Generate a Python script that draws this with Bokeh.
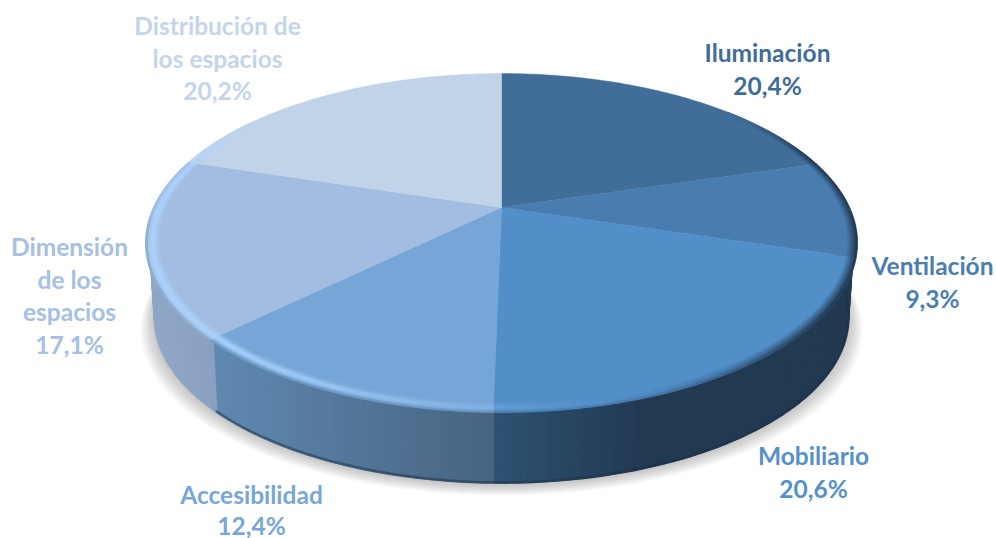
import math
from bokeh.plotting import figure
from bokeh.embed import file_html
from bokeh.resources import INLINE
from bokeh.core.properties import value

categories = ["Iluminación", "Ventilación", "Mobiliario", "Accesibilidad", "Dimensión de los espacios", "Distribución de los espacios"]
shares = [20.4, 9.3, 20.6, 12.4, 17.1, 20.2]
label_lines = [["Iluminación"], ["Ventilación"], ["Mobiliario"], ["Accesibilidad"],
               ["Dimensión", "de los", "espacios"], ["Distribución de", "los espacios"]]

face_colors = ["#406e99", "#4a7daf", "#528fc8", "#76a5d7", "#a2bde1", "#c1d3e8"]
text_colors = ["#3f6d99", "#4a7eb0", "#5490c9", "#78a6d8", "#a6c0e4", "#c4d5ea"]
side_left = [(34, 57, 82), (34, 57, 82), (46, 82, 114), (96, 137, 178), (143, 166, 198), (143, 166, 198)]
side_right = [(34, 57, 82), (34, 57, 82), (34, 57, 82), (70, 100, 128), (138, 160, 192), (143, 166, 198)]
label_anchor = [(767, 52), (932, 265), (813, 455), (251, 494), (69, 246), (217, 25)]
label_gap = [32.7, 32.7, 32.7, 30.5, 32.7, 32.7]

CX, CY, X, A, C, S, D = 501, 207, 348.1, 162.0, 0.2094, 0.975, 76.0


def proj(deg, r=1.0, low=False):
    t = math.radians(deg)
    u, v = r * math.sin(t), r * math.cos(t)
    w = 1 + C * v
    s, d = (S, D) if low else (1.0, 0.0)
    return CX + s * X * u / w, CY + d - s * A * v / w


def hexrgb(h):
    return tuple(int(h[i:i + 2], 16) for i in (1, 3, 5))


def mix(a, b, f):
    f = max(0.0, min(1.0, f))
    return "#%02x%02x%02x" % tuple(round(a[i] + (b[i] - a[i]) * f) for i in range(3))


def frange(a, b, step):
    n = max(1, int(math.ceil((b - a) / step)))
    return [a + (b - a) * i / n for i in range(n + 1)]


def smooth(a, b, x):
    f = max(0.0, min(1.0, (x - a) / (b - a)))
    return f * f * (3 - 2 * f)


edges = [0.0]
for sh in shares:
    edges.append(edges[-1] + sh)
total = edges[-1]
angles = [e / total * 360 for e in edges]

p = figure(width=996, height=538, x_range=(0, 996), y_range=(538, 0), toolbar_location=None,
           output_backend="svg", min_border=0, outline_line_color=None)
p.axis.visible = False
p.grid.visible = False

# soft shadow
for i in range(10):
    g = 14 - i * 1.4
    xs, ys = [], []
    for d in range(85, 276, 4):
        x, y = proj(d, 1.0, True)
        xs.append(CX + (x - CX) * (1 + g / 350))
        ys.append(y + 1 + g * 0.8)
    p.patch(xs, ys, fill_color="#555555", fill_alpha=0.035, line_color=None)

# side wall
hx, hy, hc = [], [], []
for i in range(len(shares)):
    a0, a1 = angles[i], angles[i + 1]
    lo, hi = max(a0, 85), min(a1, 275)
    if hi <= lo:
        continue
    steps = frange(lo, hi, 1.5)
    xa = proj(min(a1, 275))[0]
    xb = proj(max(a0, 90) if a0 < 180 else a0)[0]
    left, right = min(xa, xb), max(xa, xb)
    for d0, d1 in zip(steps, steps[1:]):
        p0, p1 = proj(d0, 0.99), proj(d1, 0.99)
        q0, q1 = proj(d0, 1.0, True), proj(d1, 1.0, True)
        xm = (p0[0] + p1[0]) / 2
        f = (xm - left) / max(1.0, right - left)
        if i == 2:
            f = (xm - left) / 150
        col = mix(side_left[i], side_right[i], f)
        hx.append([p0[0], p1[0], q1[0], q0[0]])
        hy.append([p0[1], p1[1], q1[1], q0[1]])
        hc.append(col)
p.patches(hx, hy, fill_color=hc, line_color=hc, line_width=1.2)

# dark lower rim of the wall
lx, ly = [], []
for d in frange(85, 226, 1.0):
    lx.append(proj(d, 1.0, True)[0])
    ly.append(proj(d, 1.0, True)[1] - 1)
p.line(lx, ly, line_color="#1d2f44", line_width=2.5, line_alpha=0.5)

# top faces
for i in range(len(shares)):
    xs, ys = [CX], [CY]
    for d in frange(angles[i], angles[i + 1], 1.0):
        x, y = proj(d)
        xs.append(x)
        ys.append(y)
    p.patch(xs, ys, fill_color=face_colors[i], line_color=face_colors[i], line_width=0.5)

# bevel along the front edge
light = (172, 212, 255)
dark = (30, 50, 74)
bx, by, bc = [], [], []
N = 8
rad = [0.958 + 0.042 * j / N for j in range(N + 1)]
for i in range(len(shares)):
    steps = frange(angles[i], angles[i + 1], 1.5)
    base = hexrgb(face_colors[i])
    for d0, d1 in zip(steps, steps[1:]):
        dm = (d0 + d1) / 2
        kl = smooth(160, 225, dm) * (1 - smooth(285, 312, dm))
        kd = smooth(45, 75, dm) * (1 - smooth(120, 172, dm))
        for j in range(N):
            rr = (j + 0.5) / N
            a, b = proj(d0, rad[j]), proj(d1, rad[j])
            c, e = proj(d1, rad[j + 1]), proj(d0, rad[j + 1])
            fl = kl * 0.9 * math.exp(-((rr - 0.55) / 0.3) ** 2)
            fd = kd * max(0.0, rr - 0.35) * 1.5
            roll = smooth(0.8, 1.0, rr) * smooth(80, 100, dm) * (1 - smooth(255, 280, dm)) * 0.2
            if max(fl, fd, roll) < 0.02:
                continue
            col = hexrgb(mix(base, light, fl))
            col = hexrgb(mix(col, dark, fd))
            col = mix(col, dark, roll)
            bx.append([a[0], b[0], c[0], e[0]])
            by.append([a[1], b[1], c[1], e[1]])
            bc.append(col)
p.patches(bx, by, fill_color=bc, line_color=bc, line_width=0.6)

# labels
tx, ty, tt, tc = [], [], [], []
for i, lines in enumerate(label_lines):
    ax, ay = label_anchor[i]
    for j, ln in enumerate(lines + [f"{shares[i]:.1f}%".replace(".", ",")]):
        tx.append(ax)
        ty.append(ay + j * label_gap[i])
        tt.append(ln)
        tc.append(text_colors[i])
p.text(tx, ty, text=tt, text_color=tc, text_font=value("Lato"), text_font_style="bold",
       text_font_size="24.5px", text_align="center", text_baseline="middle")

open("out.html", "w").write(file_html(p, INLINE))
